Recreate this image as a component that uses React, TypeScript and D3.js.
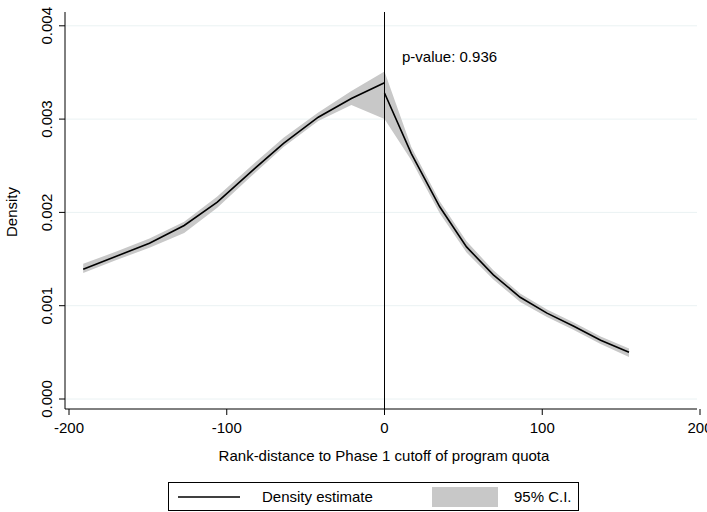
import React from "react";
import * as d3 from "d3";

const leftX = [-191, -170, -149, -127, -106, -85, -64, -42, -21, 0];
const leftY = [0.00139, 0.00153, 0.00167, 0.00186, 0.00211, 0.00243, 0.00274, 0.00302, 0.00322, 0.00339];
const leftLo = [0.00135, 0.00149, 0.00162, 0.00178, 0.00205, 0.00238, 0.00270, 0.00298, 0.00315, 0.00300];
const leftHi = [0.00145, 0.00158, 0.00172, 0.00190, 0.00217, 0.00249, 0.00280, 0.00307, 0.00330, 0.00351];
const rightX = [0, 17, 35, 52, 69, 86, 103, 120, 137, 155];
const rightY = [0.00328, 0.00263, 0.00206, 0.00163, 0.00133, 0.00109, 0.00092, 0.00078, 0.00063, 0.00050];
const rightLo = [0.00300, 0.00256, 0.00199, 0.00157, 0.00128, 0.00104, 0.00088, 0.00074, 0.00059, 0.00045];
const rightHi = [0.00351, 0.00270, 0.00212, 0.00169, 0.00138, 0.00113, 0.00096, 0.00082, 0.00067, 0.00054];
const xTicks = [-200, -100, 0, 100, 200];
const yTicks = [0, 0.001, 0.002, 0.003, 0.004];

export default function App() {
  const x = d3.scaleLinear().domain([-200, 200]).range([69, 700]);
  const y = d3.scaleLinear().domain([0, 0.004]).range([399, 25.8]);
  const font = "Arial, 'Liberation Sans', sans-serif";
  const line = (xs: number[], ys: number[]) =>
    d3.line<number>().x((_, i) => x(xs[i])).y((v) => y(v))(ys) as string;
  const area = (xs: number[], lo: number[], hi: number[]) =>
    d3.area<number>().x((_, i) => x(xs[i])).y0((_, i) => y(lo[i])).y1((v) => y(v))(hi) as string;
  return (
    <svg width={707} height={512} style={{ position: "absolute", left: 0, top: 0, background: "#fff" }} fontFamily={font}>
      {yTicks.map((t) => (
        <line key={t} x1={65} x2={697} y1={y(t)} y2={y(t)} stroke="#eaf2f3" strokeWidth={1} />
      ))}
      <path d={area(leftX, leftLo, leftHi)} fill="#c8c8c8" />
      <path d={area(rightX, rightLo, rightHi)} fill="#c8c8c8" />
      <path d={line(leftX, leftY)} fill="none" stroke="#000" strokeWidth={1.6} />
      <path d={line(rightX, rightY)} fill="none" stroke="#000" strokeWidth={1.6} />
      <line x1={x(0)} x2={x(0)} y1={12} y2={409} stroke="#000" strokeWidth={1} />
      <text x={402} y={62} fontSize={15}>p-value: 0.936</text>
      <line x1={65} x2={65} y1={12} y2={409} stroke="#000" />
      <line x1={65} x2={697} y1={409} y2={409} stroke="#000" />
      {xTicks.map((t) => (
        <g key={t}>
          <line x1={x(t)} x2={x(t)} y1={409} y2={415} stroke="#000" />
          <text x={x(t)} y={433} fontSize={15} textAnchor="middle">{t}</text>
        </g>
      ))}
      {yTicks.map((t) => (
        <g key={t}>
          <line x1={59} x2={65} y1={y(t)} y2={y(t)} stroke="#000" />
          <text transform={`translate(52,${y(t)}) rotate(-90)`} fontSize={15} textAnchor="middle">{d3.format(".3f")(t)}</text>
        </g>
      ))}
      <text x={384} y={461} fontSize={15} textAnchor="middle">Rank-distance to Phase 1 cutoff of program quota</text>
      <text transform="translate(17,212) rotate(-90)" fontSize={15} textAnchor="middle">Density</text>
      <rect x={168.5} y={482.5} width={410} height={28} fill="#fff" stroke="#000" />
      <line x1={178} x2={240} y1={497} y2={497} stroke="#000" strokeWidth={1.6} />
      <text x={262} y={502} fontSize={15}>Density estimate</text>
      <rect x={432} y={487} width={66} height={20} fill="#c8c8c8" />
      <text x={514} y={502} fontSize={15}>95% C.I.</text>
    </svg>
  );
}
